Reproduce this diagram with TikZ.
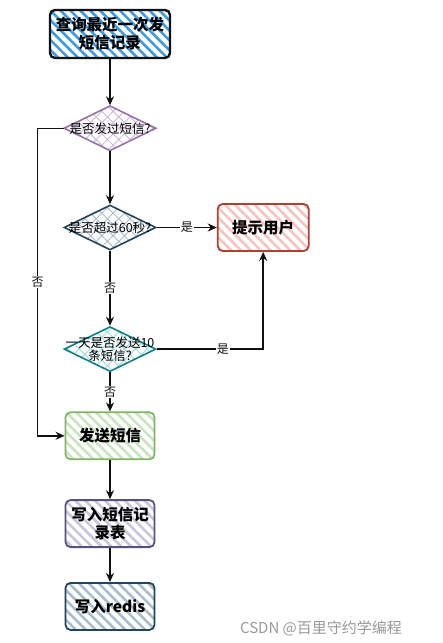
\documentclass[tikz,border=0pt]{standalone}
\usepackage{fontspec}
\setmainfont{Noto Sans CJK SC}
\usepackage{xcolor}
\usetikzlibrary{arrows.meta,positioning,shapes.geometric,patterns.meta}
\definecolor{ink}{HTML}{111111}
\definecolor{sky}{HTML}{3D9BE0}
\definecolor{purpleline}{HTML}{9673A6}
\definecolor{purplefill}{HTML}{CDB8DC}
\definecolor{navy}{HTML}{23445D}
\definecolor{navyfill}{HTML}{A9BCCB}
\definecolor{teal}{HTML}{0E8088}
\definecolor{tealfill}{HTML}{9AD8DC}
\definecolor{redline}{HTML}{AE4132}
\definecolor{redfill}{HTML}{F5C3C0}
\definecolor{greenline}{HTML}{82B366}
\definecolor{greenfill}{HTML}{C9E4BE}
\definecolor{violet}{HTML}{56517E}
\definecolor{violetfill}{HTML}{C8C5DE}
\definecolor{mark}{HTML}{999999}

\begin{document}
\begin{tikzpicture}[
  x=1pt, y=-1pt,
  box/.style={rounded corners=5pt, line width=1.8pt, align=center,
    font=\fontsize{15.5}{18}\selectfont\bfseries, inner sep=0pt},
  stripes/.style={pattern={Lines[angle=-45,distance=7pt,line width=2.6pt]}, pattern color=#1},
  dec/.style={diamond, line width=1.6pt, minimum width=92pt, minimum height=45pt,
    inner sep=0pt, pattern={Hatch[angle=45,distance=8pt,line width=0.9pt]}},
  dectext/.style={font=\fontsize{12.5}{13}\selectfont, align=center},
  lbl/.style={fill=white, inner sep=1pt, font=\fontsize{12}{12}\selectfont},
  arr/.style={-{Stealth[length=9pt,width=8pt]}, line width=1.5pt, ink}
]
\useasboundingbox (0,0) rectangle (443,643);

\node[box, draw=ink, line width=2.4pt, stripes=sky, minimum width=120pt, minimum height=48pt]
  (query) at (110,34) {查询最近一次发\\短信记录};
\node[dec, draw=purpleline, pattern color=purplefill, below=46pt of query,
  label={[dectext]center:是否发过短信?}] (sent) {};
\node[dec, draw=navy, pattern color=navyfill, below=53pt of sent,
  label={[dectext]center:是否超过60秒?}] (minute) {};
\node[dec, draw=teal, pattern color=tealfill, below=75pt of minute,
  label={[dectext]center:一天是否发送10\\条短信?}] (daily) {};
\node[box, draw=redline, stripes=redfill, minimum width=91pt, minimum height=47pt,
  right=60pt of minute] (alert) {提示用户};
\node[box, draw=greenline, stripes=greenfill, minimum width=89pt, minimum height=47pt,
  below=39pt of daily] (send) {发送短信};
\node[box, draw=violet, stripes=violetfill, minimum width=89pt, minimum height=47pt,
  below=39pt of send] (record) {写入短信记\\录表};
\node[box, draw=navy, stripes=navyfill, minimum width=89pt, minimum height=47pt,
  below=34pt of record] (redis) {写入redis};

\node[text=mark, font=\fontsize{15}{18}\selectfont] (wm) at (321,628) {CSDN @百里守约学编程};

\draw[arr] (query) -- (sent);
\draw[arr] (sent) -- (minute);
\draw[arr] (minute) -- node[lbl]{否} (daily);
\draw[arr] (daily) -- node[lbl]{否} (send);
\draw[arr] (minute) -- node[lbl]{是} (alert);
\draw[arr] (daily.east) -| node[lbl, pos=0.31]{是} (alert.south);
\draw[arr] (sent.west) -- ++(-26pt,0) |- node[lbl, pos=0.25]{否} (send.west);
\draw[arr] (send) -- (record);
\draw[arr] (record) -- (redis);
\end{tikzpicture}
\end{document}
